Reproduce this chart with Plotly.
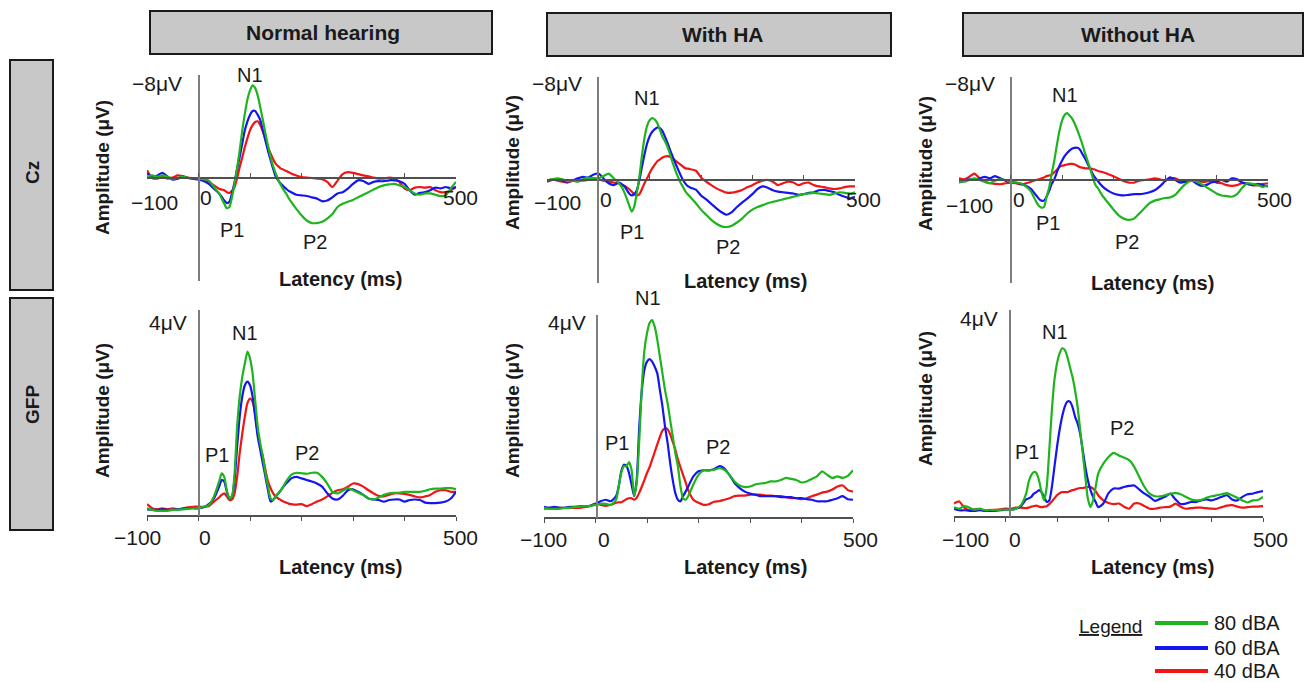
import plotly.graph_objects as go

W, H = 1307, 682
FONT = "Liberation Sans, Arial, Helvetica, sans-serif"
TXT = "#1a1a1a"

# ---------------- data (latency in ms, amplitude in microvolts) ----------------
LATENCY_MS = [-100, -90, -80, -70, -60, -50, -40, -30, -20, -10, 0, 10, 20, 30,
              40, 45, 50, 55, 60, 65, 70, 75, 80, 85, 90, 95, 100, 105, 110, 115, 120,
              125, 130, 135, 140, 145, 150, 155, 160, 165, 170, 175, 180,
              190, 200, 210, 220, 230, 240, 250, 260, 270, 280, 290, 300, 310, 320, 330,
              340, 350, 360, 370, 380, 390, 400, 410, 420, 430, 440, 450, 460, 470, 480,
              490, 500]

COLUMN_TITLES = ["Normal hearing", "With HA", "Without HA"]
ROW_TITLES = ["Cz", "GFP"]
LEVELS = ["80 dBA", "60 dBA", "40 dBA"]
PEAK_NAMES = ["N1", "P1", "P2"]
X_TICK_LABELS = ["\u2212100", "0", "500"]
CZ_SCALE_LABEL = "\u22128\u03bcV"
GFP_SCALE_LABEL = "4\u03bcV"

# Cz, normal hearing
nh_cz_80 = [-0.1, -0.2, -0.1, -0.2, -0.1, 0.05, 0, -0.1, 0, 0, 0.05, 0.1, 0.2, 0.7,
            1.2, 1.6, 2.0, 2.35, 2.25, 1.5, 0.45, -0.8, -2.15, -3.7, -5.0, -6.1, -6.8, -7.2, -7.0,
            -6.4, -5.5, -4.5, -3.45, -2.5, -1.65, -0.9, -0.35, 0.15, 0.57, 0.9, 1.2, 1.55, 1.85,
            2.4, 2.9, 3.3, 3.5, 3.5, 3.4, 3.15, 2.8, 2.25, 2.0, 1.85, 1.7, 1.5, 1.3, 1.1, 0.9,
            0.7, 0.57, 0.5, 0.45, 0.57, 0.7, 0.95, 1.2, 1.3, 1.2, 1.2, 1.3, 1.4, 1.35, 0.8, 0.3]
nh_cz_60 = [-0.35, -0.1, -0.2, -0.4, -0.1, 0.13, 0.05, -0.1, 0, 0.05, 0.13, 0.23, 0.45, 0.83,
            1.2, 1.45, 1.75, 1.95, 1.85, 1.2, 0.3, -0.7, -1.65, -2.7, -3.7, -4.4, -4.9, -5.2, -5.2,
            -4.9, -4.5, -3.7, -2.9, -2.1, -1.4, -0.7, -0.1, 0.2, 0.45, 0.65, 0.83, 1.0, 1.1,
            1.3, 1.35, 1.4, 1.5, 1.6, 1.8, 1.75, 1.5, 1.2, 1.1, 0.83, 0.45, 0.18, 0.23, 0.45, 0.3,
            0.25, 0.25, 0.18, 0.18, 0.25, 0.45, 0.95, 1.3, 1.15, 1.1, 0.95, 0.75, 0.8, 0.7, 0.8, 0.7]
nh_cz_40 = [-0.6, 0, 0.05, -0.1, 0.05, -0.05, -0.2, -0.13, -0.03, 0.05, 0, 0.18, 0.3, 0.57,
            0.83, 0.9, 0.95, 1.1, 1.15, 1.0, 0.7, 0.0, -0.85, -1.6, -2.4, -3.1, -3.7, -4.1, -4.35,
            -4.4, -4.1, -3.6, -3.05, -2.4, -1.9, -1.45, -1.1, -0.9, -0.73, -0.65, -0.55, -0.45, -0.35,
            -0.2, -0.08, -0.03, 0, 0.05, 0.1, 0.3, 0.7, 0.2, -0.3, -0.45, -0.4, -0.3, -0.2, -0.13, -0.03,
            0.05, 0.05, -0.03, 0.05, 0.3, 0.83, 0.95, 0.75, 0.7, 0.75, 0.7, 0.95, 1.1, 1.1, 0.95, 0.7]

# Cz, with hearing aid
wha_cz_80 = [0.05, -0.05, -0.13, -0.05, 0.08, 0.05, 0.13, -0.05, -0.18, -0.13, -0.13, -0.3, -0.5, -0.13,
             0.25, 0.5, 0.9, 1.4, 1.95, 2.45, 2.05, 1.0, -0.25, -1.9, -3.3, -4.2, -4.65, -4.8, -4.7,
             -4.4, -3.9, -3.35, -3.0, -2.55, -1.95, -1.3, -0.75, -0.25, 0.2, 0.55, 0.9, 1.15, 1.35,
             1.8, 2.3, 2.7, 3.1, 3.4, 3.6, 3.65, 3.55, 3.3, 3.0, 2.6, 2.3, 2.1, 1.95, 1.8, 1.7,
             1.6, 1.5, 1.4, 1.3, 1.2, 1.1, 1.05, 1.0, 1.05, 1.1, 1.15, 1.05, 0.95, 1.0, 1.05, 0.95]
wha_cz_60 = [0.13, 0, -0.05, 0.05, 0.13, 0.05, -0.13, -0.25, -0.18, -0.4, -0.5, -0.13, 0.25, 0.4,
             0.2, 0.3, 0.45, 0.75, 1.05, 1.2, 1.1, 0.8, 0.0, -1.03, -2.0, -2.84, -3.4, -3.75, -3.95,
             -4.08, -4.02, -3.8, -3.35, -2.85, -2.3, -1.8, -1.3, -0.85, -0.4, 0.0, 0.3, 0.5, 0.6,
             0.75, 1.2, 1.5, 1.85, 2.2, 2.5, 2.7, 2.5, 2.1, 1.75, 1.45, 1.1, 0.7, 0.5, 0.6, 0.8,
             0.9, 0.95, 1.0, 1.05, 1.15, 1.1, 1.0, 0.95, 0.8, 0.77, 0.85, 0.95, 1.15, 1.3, 1.42, 1.3]
wha_cz_40 = [0.05, -0.05, 0.05, 0.13, 0.2, 0.05, 0, 0.05, 0, -0.13, -0.05, 0.05, 0.13, 0.2,
             0.25, 0.4, 0.45, 0.55, 0.7, 0.9, 1.1, 1.2, 1.1, 0.7, 0.25, -0.13, -0.55, -0.9, -1.2,
             -1.45, -1.6, -1.75, -1.83, -1.86, -1.78, -1.65, -1.5, -1.35, -1.2, -1.03, -0.9, -0.88, -0.83,
             -0.72, -0.2, 0.13, 0.4, 0.65, 0.83, 0.98, 0.98, 0.9, 0.77, 0.57, 0.4, 0.2, 0.05, 0, 0.13,
             0.4, 0.25, 0.13, 0.2, 0.4, 0.25, 0.2, 0.4, 0.5, 0.55, 0.65, 0.7, 0.65, 0.55, 0.5, 0.5]

# Cz, without hearing aid
woha_cz_80 = [0.13, 0.13, 0, -0.13, 0, 0.13, 0.25, 0.05, -0.05, 0, 0.13, 0.2, 0.25, 0.5,
              0.9, 1.3, 1.7, 2.0, 2.15, 2.1, 1.3, 0.6, -0.5, -1.5, -2.7, -3.8, -4.6, -5.05, -5.2,
              -5.0, -4.75, -4.35, -3.85, -3.3, -2.7, -2.05, -1.45, -0.85, -0.15, 0.4, 0.65, 1.0, 1.3,
              1.8, 2.3, 2.75, 3.0, 3.1, 3.0, 2.6, 2.2, 1.8, 1.6, 1.5, 1.4, 1.35, 1.15, 0.7, 0.3,
              0.05, 0.1, 0.3, 0.55, 0.8, 1.05, 1.2, 1.25, 1.3, 1.1, 0.6, 0.25, 0.3, 0.4, 0.55, 0.4]
woha_cz_60 = [0.2, 0.05, -0.05, 0, -0.13, -0.25, -0.13, -0.3, -0.13, 0.05, 0.13, 0.2, 0.3, 0.45,
              0.7, 0.95, 1.2, 1.45, 1.6, 1.6, 1.3, 0.85, 0.3, -0.05, -0.6, -1.1, -1.5, -1.85, -2.1,
              -2.3, -2.45, -2.5, -2.5, -2.35, -2.0, -1.65, -1.25, -0.85, -0.45, -0.15, 0.1, 0.35, 0.55,
              0.85, 1.05, 1.15, 1.2, 1.15, 1.1, 1.1, 1.05, 0.95, 0.8, 0.5, 0.1, -0.2, 0, 0.2, 0.13,
              0, 0.25, 0.45, 0.4, 0.2, 0.13, 0, 0.13, -0.13, -0.05, 0.2, 0.3, 0.4, 0.3, 0.4, 0.5]
woha_cz_40 = [-0.13, -0.05, -0.25, -0.5, -0.13, 0.13, 0.25, 0.3, 0.33, 0.25, 0.2, 0.25, 0.35, 0.25,
              0.13, 0.05, 0, -0.05, -0.13, -0.2, -0.3, -0.35, -0.4, -0.6, -0.8, -1.0, -1.1, -1.15, -1.2,
              -1.25, -1.25, -1.2, -1.1, -1.0, -0.95, -0.9, -0.9, -0.9, -0.85, -0.8, -0.7, -0.65, -0.6,
              -0.45, -0.3, -0.1, 0.1, 0.2, 0.2, 0.05, 0, -0.05, -0.13, -0.05, 0.05, -0.13, -0.13, 0.05, 0.13,
              0, 0.05, 0.13, 0.13, 0.05, 0.2, 0.25, 0.4, 0.45, 0.4, 0.25, 0.3, 0.4, 0.4, 0.3, 0.25]

# GFP, normal hearing
nh_gfp_80 = [0.15, 0.12, 0.1, 0.1, 0.1, 0.12, 0.12, 0.13, 0.14, 0.15, 0.15, 0.18, 0.21, 0.38,
             0.67, 0.83, 0.76, 0.5, 0.34, 0.38, 0.83, 1.73, 2.32, 2.7, 2.96, 3.19, 3.06, 2.77, 2.25,
             1.73, 1.41, 1.15, 0.83, 0.57, 0.34, 0.31, 0.38, 0.44, 0.5, 0.58, 0.67, 0.74, 0.8,
             0.84, 0.83, 0.82, 0.84, 0.84, 0.76, 0.63, 0.47, 0.44, 0.49, 0.54, 0.5, 0.45, 0.41, 0.34, 0.32,
             0.36, 0.41, 0.44, 0.45, 0.45, 0.47, 0.47, 0.47, 0.47, 0.49, 0.52, 0.53, 0.53, 0.54, 0.54, 0.52]
nh_gfp_60 = [0.13, 0.12, 0.12, 0.13, 0.12, 0.12, 0.13, 0.14, 0.15, 0.15, 0.15, 0.17, 0.23, 0.34,
             0.57, 0.7, 0.67, 0.47, 0.34, 0.38, 0.7, 1.35, 1.93, 2.32, 2.54, 2.61, 2.54, 2.32, 1.93,
             1.54, 1.28, 1.02, 0.76, 0.5, 0.28, 0.31, 0.38, 0.44, 0.5, 0.57, 0.63, 0.68, 0.73,
             0.76, 0.73, 0.7, 0.67, 0.63, 0.57, 0.44, 0.34, 0.32, 0.39, 0.5, 0.52, 0.47, 0.41, 0.34, 0.32,
             0.31, 0.28, 0.31, 0.32, 0.32, 0.28, 0.31, 0.32, 0.31, 0.26, 0.25, 0.25, 0.26, 0.28, 0.34, 0.47]
nh_gfp_40 = [0.23, 0.15, 0.13, 0.15, 0.13, 0.15, 0.13, 0.15, 0.17, 0.18, 0.18, 0.18, 0.19, 0.28,
             0.36, 0.41, 0.44, 0.38, 0.31, 0.32, 0.44, 0.76, 1.22, 1.6, 1.93, 2.19, 2.28, 2.22, 1.99,
             1.6, 1.35, 1.15, 0.89, 0.67, 0.54, 0.44, 0.38, 0.34, 0.31, 0.28, 0.26, 0.24, 0.23,
             0.22, 0.23, 0.19, 0.23, 0.28, 0.32, 0.38, 0.45, 0.5, 0.52, 0.57, 0.63, 0.62, 0.57, 0.5, 0.44,
             0.39, 0.38, 0.41, 0.44, 0.44, 0.43, 0.41, 0.38, 0.36, 0.38, 0.41, 0.47, 0.5, 0.5, 0.47, 0.47]

# GFP, with hearing aid
wha_gfp_80 = [0.2, 0.18, 0.18, 0.18, 0.2, 0.2, 0.22, 0.22, 0.23, 0.24, 0.26, 0.28, 0.28, 0.26,
              0.36, 0.62, 0.89, 1.02, 1.02, 1.1, 0.95, 0.43, 0.69, 1.54, 2.59, 3.31, 3.64, 3.84, 3.9,
              3.77, 3.51, 3.18, 2.85, 2.52, 2.26, 1.93, 1.61, 1.28, 1.02, 0.62, 0.39, 0.36, 0.43,
              0.66, 0.85, 0.94, 0.94, 0.95, 0.98, 0.95, 0.85, 0.72, 0.64, 0.61, 0.62, 0.66, 0.68, 0.69, 0.72,
              0.72, 0.75, 0.79, 0.77, 0.75, 0.7, 0.72, 0.77, 0.82, 0.92, 0.85, 0.79, 0.82, 0.79, 0.83, 0.94]
wha_gfp_60 = [0.22, 0.2, 0.22, 0.2, 0.2, 0.22, 0.22, 0.23, 0.23, 0.24, 0.28, 0.33, 0.36, 0.33,
              0.43, 0.62, 0.92, 1.05, 1.03, 0.89, 0.66, 0.43, 0.75, 1.8, 2.52, 2.92, 3.08, 3.13, 3.08,
              2.98, 2.85, 2.52, 2.2, 1.8, 1.48, 1.08, 0.75, 0.49, 0.36, 0.33, 0.43, 0.52, 0.62,
              0.82, 0.92, 0.94, 0.94, 0.96, 1.02, 0.98, 0.85, 0.69, 0.59, 0.52, 0.48, 0.46, 0.43, 0.43, 0.43,
              0.43, 0.41, 0.41, 0.41, 0.39, 0.39, 0.37, 0.36, 0.33, 0.33, 0.33, 0.36, 0.39, 0.43, 0.37, 0.36]
wha_gfp_40 = [0.18, 0.2, 0.2, 0.2, 0.2, 0.2, 0.2, 0.2, 0.22, 0.24, 0.28, 0.26, 0.24, 0.26,
              0.3, 0.31, 0.31, 0.34, 0.37, 0.39, 0.39, 0.36, 0.4, 0.5, 0.62, 0.75, 0.89, 1.0, 1.15,
              1.3, 1.45, 1.6, 1.72, 1.77, 1.75, 1.65, 1.5, 1.35, 1.15, 1.0, 0.85, 0.7, 0.55,
              0.36, 0.3, 0.26, 0.27, 0.32, 0.33, 0.36, 0.39, 0.43, 0.44, 0.44, 0.46, 0.46, 0.46, 0.44, 0.44,
              0.43, 0.43, 0.41, 0.39, 0.39, 0.37, 0.39, 0.43, 0.46, 0.5, 0.52, 0.56, 0.62, 0.64, 0.55, 0.52]

# GFP, without hearing aid
woha_gfp_80 = [0.19, 0.16, 0.21, 0.18, 0.14, 0.16, 0.13, 0.14, 0.13, 0.14, 0.14, 0.14, 0.16, 0.23,
               0.45, 0.68, 0.81, 0.87, 0.85, 0.71, 0.48, 0.32, 0.58, 1.29, 2.06, 2.65, 2.97, 3.16, 3.26,
               3.23, 3.1, 2.9, 2.71, 2.45, 2.13, 1.68, 1.23, 0.77, 0.35, 0.19, 0.32, 0.58, 0.84,
               1.03, 1.16, 1.24, 1.19, 1.15, 1.1, 0.97, 0.77, 0.58, 0.45, 0.4, 0.4, 0.42, 0.45, 0.46, 0.44,
               0.39, 0.34, 0.32, 0.33, 0.37, 0.4, 0.42, 0.44, 0.46, 0.42, 0.37, 0.32, 0.28, 0.32, 0.33, 0.39]
woha_gfp_60 = [0.16, 0.13, 0.13, 0.12, 0.12, 0.13, 0.12, 0.12, 0.12, 0.13, 0.14, 0.14, 0.16, 0.21,
               0.34, 0.36, 0.39, 0.45, 0.48, 0.52, 0.48, 0.39, 0.29, 0.32, 0.58, 0.97, 1.35, 1.68, 1.94,
               2.13, 2.23, 2.23, 2.13, 1.94, 1.81, 1.61, 1.29, 0.97, 0.71, 0.52, 0.39, 0.29, 0.19,
               0.26, 0.46, 0.55, 0.55, 0.58, 0.6, 0.61, 0.53, 0.45, 0.39, 0.31, 0.35, 0.39, 0.45, 0.34, 0.25,
               0.26, 0.29, 0.29, 0.32, 0.34, 0.32, 0.35, 0.39, 0.42, 0.34, 0.32, 0.39, 0.44, 0.45, 0.48, 0.5]
woha_gfp_40 = [0.26, 0.3, 0.18, 0.13, 0.15, 0.15, 0.13, 0.13, 0.14, 0.15, 0.16, 0.16, 0.18, 0.18,
               0.17, 0.18, 0.2, 0.21, 0.22, 0.2, 0.19, 0.2, 0.21, 0.25, 0.3, 0.36, 0.42, 0.46, 0.48,
               0.48, 0.48, 0.5, 0.52, 0.53, 0.55, 0.56, 0.56, 0.57, 0.58, 0.58, 0.55, 0.5, 0.42,
               0.32, 0.27, 0.25, 0.26, 0.2, 0.16, 0.26, 0.26, 0.21, 0.16, 0.16, 0.18, 0.19, 0.2, 0.26, 0.2,
               0.16, 0.17, 0.18, 0.18, 0.17, 0.16, 0.16, 0.19, 0.22, 0.23, 0.2, 0.18, 0.19, 0.2, 0.2, 0.21]

for _s in [nh_cz_80, nh_cz_60, nh_cz_40, wha_cz_80, wha_cz_60, wha_cz_40, woha_cz_80, woha_cz_60,
           woha_cz_40, nh_gfp_80, nh_gfp_60, nh_gfp_40, wha_gfp_80, wha_gfp_60, wha_gfp_40,
           woha_gfp_80, woha_gfp_60, woha_gfp_40]:
    assert len(_s) == len(LATENCY_MS), len(_s)

LEVEL_COLORS = {"80 dBA": "#1db41d", "60 dBA": "#1515ef", "40 dBA": "#f01515"}

# ---------------- layout geometry (pixels) ----------------
PANELS = [
    dict(series=[nh_cz_80, nh_cz_60, nh_cz_40], x0=147, x1=456, yt=75, yb=281, ax=178, vx=198.5, kind="cz"),
    dict(series=[wha_cz_80, wha_cz_60, wha_cz_40], x0=547, x1=855, yt=77, yb=283, ax=180, vx=598, kind="cz"),
    dict(series=[woha_cz_80, woha_cz_60, woha_cz_40], x0=959, x1=1268, yt=77, yb=283, ax=180, vx=1011, kind="cz"),
    dict(series=[nh_gfp_80, nh_gfp_60, nh_gfp_40], x0=147, x1=456, yt=310, yb=516, ax=516, vx=198.5, kind="gfp"),
    dict(series=[wha_gfp_80, wha_gfp_60, wha_gfp_40], x0=544, x1=853, yt=315, yb=518, ax=518, vx=597, kind="gfp"),
    dict(series=[woha_gfp_80, woha_gfp_60, woha_gfp_40], x0=954, x1=1263, yt=310, yb=517, ax=517, vx=1010, kind="gfp"),
]


def px(x):
    return x / W


def py(y):
    return 1 - y / H


fig = go.Figure()
layout_axes = {}
for i, p in enumerate(PANELS, start=1):
    xa = "x" if i == 1 else f"x{i}"
    ya = "y" if i == 1 else f"y{i}"
    for lvl, ser in reversed(list(zip(LEVELS, p["series"]))):
        fig.add_trace(go.Scatter(
            x=LATENCY_MS, y=ser, mode="lines", name=lvl, showlegend=False,
            line=dict(color=LEVEL_COLORS[lvl], width=2.2, shape="spline", smoothing=0.6),
            xaxis=xa, yaxis=ya, hoverinfo="skip"))
    cz = p["kind"] == "cz"
    layout_axes["xaxis" if i == 1 else f"xaxis{i}"] = dict(
        domain=[px(p["x0"]), px(p["x1"])], range=[-100, 500], anchor="free",
        position=py(p["ax"]), showline=True, linecolor="#505050", linewidth=1.6,
        ticks="inside" if cz else "outside", ticklen=4, tickwidth=1.3, tickcolor="#505050",
        tick0=-100, dtick=100, showticklabels=False, showgrid=False, zeroline=False)
    layout_axes["yaxis" if i == 1 else f"yaxis{i}"] = dict(
        domain=[py(p["yb"]), py(p["yt"])], range=[8, -8] if cz else [0, 4], anchor="free",
        position=px(p["vx"]), showline=True, linecolor="#7d7d7d", linewidth=1.6,
        ticks="", showticklabels=False, showgrid=False, zeroline=False)


def txt(s, x, y, size=20, bold=False, angle=0, xanchor="center", color=TXT):
    return dict(text=f"<b>{s}</b>" if bold else s, x=px(x), y=py(y), xref="paper", yref="paper",
                showarrow=False, textangle=angle, xanchor=xanchor, yanchor="middle",
                font=dict(family=FONT, size=size, color=color))


anns = []
shapes = []
for title, (bx0, bx1, by0, by1, tx) in zip(COLUMN_TITLES, [(150, 492, 11, 54, 323),
                                                           (547, 891, 13, 56, 722),
                                                           (963, 1303, 13, 56, 1138)]):
    shapes.append(dict(type="rect", xref="paper", yref="paper", x0=px(bx0), x1=px(bx1),
                       y0=py(by1), y1=py(by0), fillcolor="#c8c8c8",
                       line=dict(color="#1a1a1a", width=2), layer="below"))
    anns.append(txt(title, tx, (by0 + by1) / 2, size=21, bold=True))
for title, (by0, by1, ty) in zip(ROW_TITLES, [(60, 290, 173), (298, 530, 405)]):
    shapes.append(dict(type="rect", xref="paper", yref="paper", x0=px(10), x1=px(53),
                       y0=py(by1), y1=py(by0), fillcolor="#c8c8c8",
                       line=dict(color="#1a1a1a", width=2), layer="below"))
    anns.append(txt(title, 32, ty, size=19, bold=True, angle=-90))

for (ax_x, cz_y, gfp_y) in [(102, 167, 410), (512, 163, 411), (925, 163, 398)]:
    anns.append(txt("Amplitude (\u03bcV)", ax_x, cz_y, size=19, bold=True, angle=-90))
    anns.append(txt("Amplitude (\u03bcV)", ax_x, gfp_y, size=19, bold=True, angle=-90))
for (lx, cy, gy) in [(341, 279, 567), (745, 281, 567), (1152, 283, 567)]:
    anns.append(txt("Latency (ms)", lx, cy, size=20, bold=True))
    anns.append(txt("Latency (ms)", lx, gy, size=20, bold=True))

TICK_POS = [
    [(154, 203), (206, 198), (460, 198)],
    [(557, 203), (606, 200), (863, 200)],
    [(969, 206), (1019, 200), (1274, 200)],
    [(137, 537), (205, 537), (460, 537)],
    [(543, 539), (604, 539), (860, 539)],
    [(965, 539), (1015, 539), (1270, 539)],
]
for row in TICK_POS:
    for lab, (tx, ty) in zip(X_TICK_LABELS, row):
        anns.append(txt(lab, tx, ty, size=21))
for (tx, ty) in [(157, 83), (557, 83), (970, 83)]:
    anns.append(txt(CZ_SCALE_LABEL, tx, ty, size=21))
for (tx, ty) in [(168, 322), (567, 322), (979, 318)]:
    anns.append(txt(GFP_SCALE_LABEL, tx, ty, size=21))

PEAK_POS = [
    [(250, 75), (232, 230), (315, 242)],
    [(647, 98), (632, 232), (728, 247)],
    [(1065, 95), (1048, 223), (1127, 242)],
    [(245, 333), (217, 455), (307, 453)],
    [(648, 298), (617, 443), (718, 447)],
    [(1055, 332), (1027, 452), (1122, 428)],
]
for row in PEAK_POS:
    for lab, (tx, ty) in zip(PEAK_NAMES, row):
        anns.append(txt(lab, tx, ty, size=20))

anns.append(txt("<u>Legend</u>", 1110, 626, size=19))
for lvl, ly in zip(LEVELS, [623, 648, 671]):
    shapes.append(dict(type="line", xref="paper", yref="paper", x0=px(1155), x1=px(1208),
                       y0=py(ly), y1=py(ly), line=dict(color=LEVEL_COLORS[lvl], width=4)))
    anns.append(txt(lvl, 1212, ly, size=20, xanchor="left"))

fig.update_layout(
    width=W, height=H, margin=dict(l=0, r=0, t=0, b=0),
    paper_bgcolor="white", plot_bgcolor="rgba(0,0,0,0)",
    showlegend=False, annotations=anns, shapes=shapes,
    font=dict(family=FONT, color=TXT), **layout_axes)

fig.write_html(
    "out.html", config={"displayModeBar": False},
    post_script="document.body.style.margin='0px';document.body.style.padding='0px';"
                "document.documentElement.style.overflow='hidden';")
